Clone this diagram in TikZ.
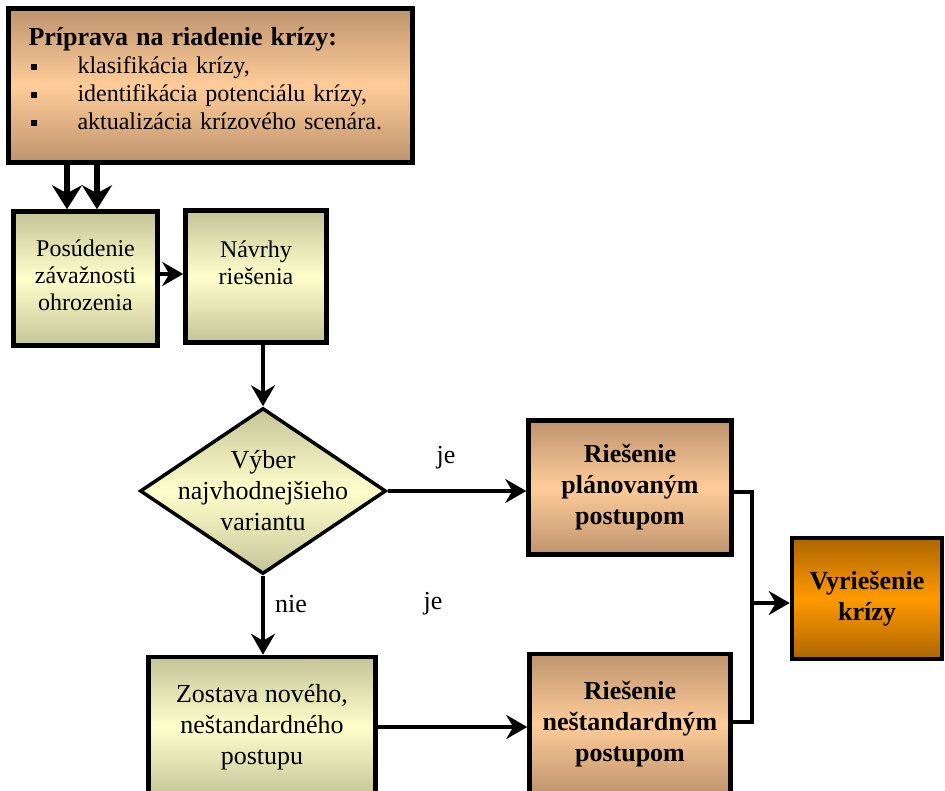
\documentclass[tikz,border=0pt]{standalone}
\usepackage{fontspec}
\setmainfont{Liberation Serif}
\usetikzlibrary{arrows.meta,shapes.geometric}
\definecolor{peachM}{RGB}{255,204,153}
\definecolor{peachE}{RGB}{190,148,110}
\definecolor{greenM}{RGB}{255,255,204}
\definecolor{greenE}{RGB}{196,196,152}
\definecolor{orangeM}{RGB}{255,153,0}
\definecolor{orangeE}{RGB}{172,102,0}
\begin{document}
\begin{tikzpicture}[x=1pt,y=-1pt,
  box/.style={draw=black, line width=4.5pt, inner sep=0pt, align=center},
  peachbox/.style={box, top color=peachE, bottom color=peachE, middle color=peachM},
  greenbox/.style={box, top color=greenE, bottom color=greenE, middle color=greenM},
  orangebox/.style={box, top color=orangeE, bottom color=orangeE, middle color=orangeM},
  regtext/.style={font=\fontsize{24}{27}\selectfont},
  bigtext/.style={font=\fontsize{26}{31}\selectfont},
  boldtext/.style={font=\fontsize{26}{31}\selectfont\bfseries},
  conn/.style={line width=3.2pt, -{Stealth[length=21pt,width=24pt,inset=7pt]}},
  thickconn/.style={line width=6pt, -{Stealth[length=24pt,width=30pt,inset=8pt]}},
  plain/.style={line width=3.2pt}]
\useasboundingbox (0,0) rectangle (945,790);

% top box
\node[peachbox, minimum width=404pt, minimum height=154pt, text width=364pt, align=left,
      font=\fontsize{24}{28}\selectfont] (prep) at (210.5,85.5)
 {{\fontsize{26}{28}\selectfont\bfseries Príprava na riadenie krízy:}\\
  \hspace*{2pt}\rule[4pt]{6pt}{6pt}\hspace*{41pt}klasifikácia krízy,\\
  \hspace*{2pt}\rule[4pt]{6pt}{6pt}\hspace*{41pt}identifikácia potenciálu krízy,\\
  \hspace*{2pt}\rule[4pt]{6pt}{6pt}\hspace*{41pt}aktualizácia krízového scenára.\\[-14pt]\mbox{}};

\node[greenbox, regtext, minimum width=144pt, minimum height=134pt] (pos) at (85.5,278.5)
 {Posúdenie\\závažnosti\\ohrozenia\\[-20pt]\mbox{}};
\node[greenbox, regtext, minimum width=141pt, minimum height=132pt] (nav) at (256,276.5)
 {Návrhy\\riešenia\\\mbox{}};

\node[diamond, draw=black, line width=3.5pt, top color=greenE, bottom color=greenE, middle color=greenM,
      minimum width=246pt, minimum height=166pt, inner sep=0pt] (dia) at (263,491) {};
\node[bigtext, align=center] (diatext) at (dia.center) {Výber\\najvhodnejšieho\\variantu};

\node[peachbox, boldtext, minimum width=203pt, minimum height=134pt] (riesP) at (630,487.5)
 {Riešenie\\plánovaným\\postupom};
\node[greenbox, bigtext, minimum width=227pt, minimum height=140pt] (zost) at (262,727)
 {Zostava nového,\\neštandardného\\postupu};
\node[peachbox, boldtext, minimum width=201pt, minimum height=140pt] (riesN) at (630,724)
 {Riešenie\\neštandardným\\postupom};
\node[orangebox, boldtext, minimum width=150pt, minimum height=121pt] (vyr) at (867,598.5)
 {Vyriešenie\\krízy};

% labels
\node[bigtext] (je1) at (446,458) {je};
\node[bigtext] (nie) at (291,604) {nie};
\node[bigtext] (je2) at (433,604) {je};

% connectors
\draw[thickconn] (prep.south -| 67,0) -- (pos.north -| 67,0);
\draw[thickconn] (prep.south -| 97,0) -- (pos.north -| 97,0);
\draw[conn] (pos.east |- 0,274) -- (nav.west |- 0,274);
\draw[conn] (dia.north |- nav.south) -- (dia.north);
\draw[conn] (dia.east) -- (riesP.west |- dia.east);
\draw[conn] (dia.south) -- (zost.north -| dia.south);
\draw[conn] (zost.east) -- (riesN.west |- zost.east);
\coordinate (bus) at (752,603);
\draw[plain] (riesP.east |- 0,492) -- (752,492) -- (752,722) -- (riesN.east |- 0,722);
\draw[conn] (bus) -- (vyr.west |- bus);
\end{tikzpicture}
\end{document}
